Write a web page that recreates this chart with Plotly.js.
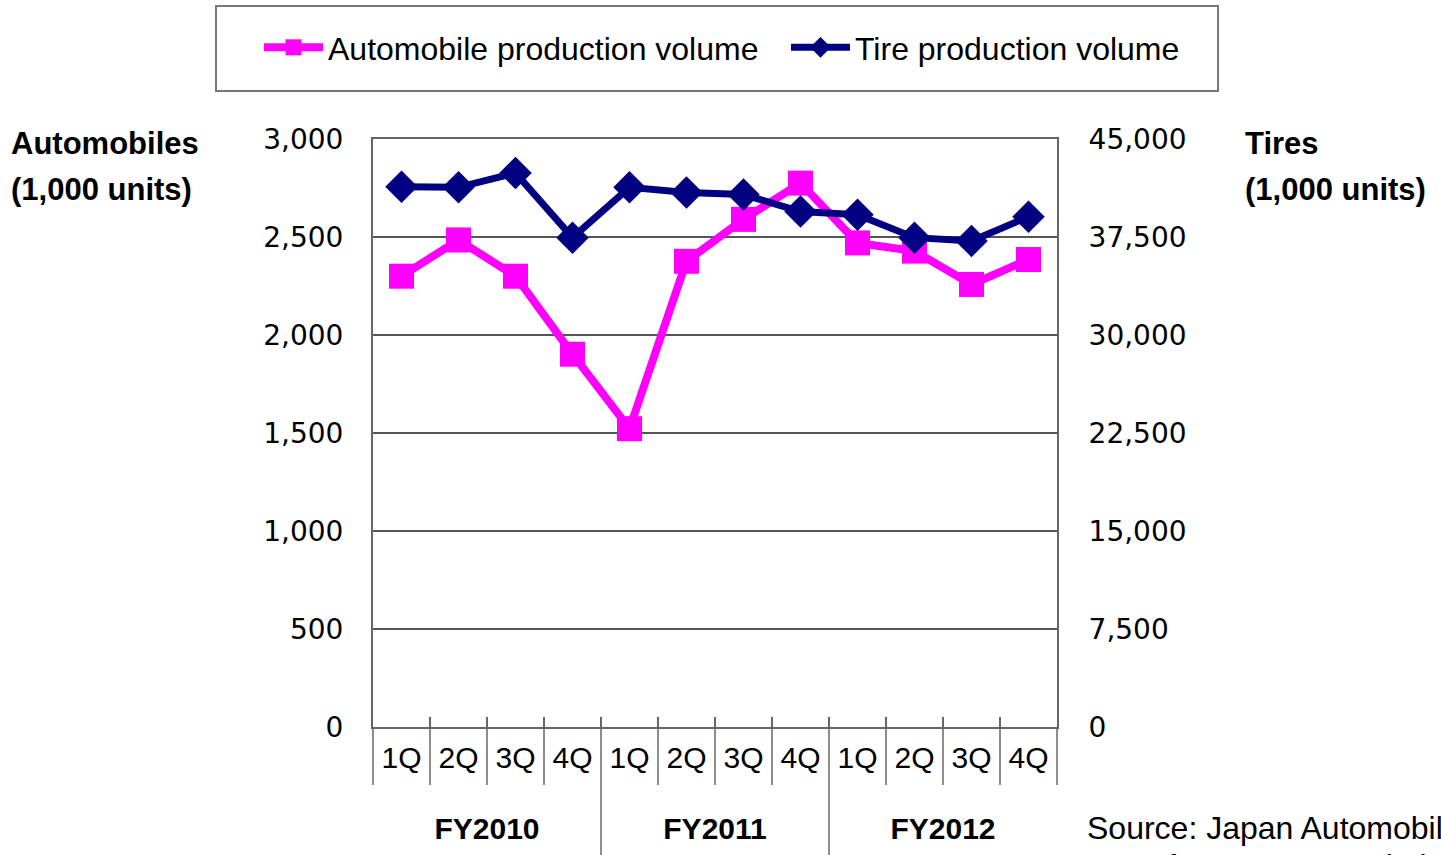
<!DOCTYPE html>
<html>
<head>
<meta charset="utf-8">
<script src="https://cdn.plot.ly/plotly-3.0.1.min.js"></script>
<style>
  html, body { margin: 0; padding: 0; background: #fff; }
  #chart { width: 1441px; height: 855px; }
</style>
</head>
<body>
<div id="chart"></div>
<script>
// quarterly production, FY2010 - FY2012
const fiscalYears = ['FY2010', 'FY2010', 'FY2010', 'FY2010',
                     'FY2011', 'FY2011', 'FY2011', 'FY2011',
                     'FY2012', 'FY2012', 'FY2012', 'FY2012'];
const quarters = ['1Q', '2Q', '3Q', '4Q', '1Q', '2Q', '3Q', '4Q', '1Q', '2Q', '3Q', '4Q'];

// Automobiles (1,000 units), left axis
const autoProduction = [2300, 2485, 2300, 1902, 1522, 2376, 2590, 2775, 2470, 2428, 2258, 2385];
// Tires (1,000 units), right axis
const tireProduction = [41350, 41300, 42400, 37450, 41300, 40900, 40750, 39450, 39200, 37450, 37200, 39050];

const autoTicks = [0, 500, 1000, 1500, 2000, 2500, 3000];
const tireTicks = [0, 7500, 15000, 22500, 30000, 37500, 45000];

// plot area in pixels, used to place the loose text
const L = 373, R = 1057, T = 139, B = 727;
const px = x => (x - L) / (R - L);
const py = y => (B - y) / (B - T);

// empty first line pushes the year labels further below the quarters
const xCats = [fiscalYears.map(y => '<br><b>' + y + '</b>'), quarters];

const autoTrace = {
    x: xCats,
    y: autoProduction,
    type: 'scatter',
    mode: 'lines+markers',
    name: 'Automobile production volume',
    line: {color: '#ff00ff', width: 8},
    marker: {symbol: 'square', size: 25, color: '#ff00ff'},
    yaxis: 'y'
};

const tireTrace = {
    x: xCats,
    y: tireProduction,
    type: 'scatter',
    mode: 'lines+markers',
    name: 'Tire production volume',
    line: {color: '#000080', width: 7},
    marker: {symbol: 'diamond', size: 25, color: '#000080'},
    yaxis: 'y2',
    legendwidth: 340
};

// separators under the axis: short between quarters, long between years
const n = quarters.length;
const shapes = [];
for (let i = 0; i <= n; i++) {
    const yearBreak = i > 0 && i < n && fiscalYears[i] !== fiscalYears[i - 1];
    shapes.push({
        type: 'line', xref: 'paper', yref: 'paper',
        x0: i / n, x1: i / n,
        y0: yearBreak ? py(717) : 0,
        y1: yearBreak ? py(860) : py(785),
        line: {color: '#666', width: 1.5}
    });
}
// legend frame
shapes.push({
    type: 'rect', xref: 'paper', yref: 'paper',
    x0: px(216), x1: px(1218), y0: py(91), y1: py(6),
    line: {color: '#777', width: 2}
});

const tickFont = {family: 'DejaVu Sans', size: 28, color: '#000'};
const boldFont = {family: 'Liberation Sans, Arial', size: 31, color: '#000'};
const srcFont = {family: 'Liberation Sans, Arial', size: 32, color: '#000'};

const layout = {
    width: 1441,
    height: 855,
    margin: {l: L, r: 1441 - R, t: T, b: 855 - B, autoexpand: false},
    paper_bgcolor: '#fff',
    plot_bgcolor: '#fff',
    showlegend: true,
    legend: {
        orientation: 'h',
        xref: 'paper', yref: 'paper',
        x: px(259), xanchor: 'left',
        y: py(20), yanchor: 'top',
        borderwidth: 0,
        bgcolor: 'rgba(0,0,0,0)',
        font: {family: 'Liberation Sans, Arial', size: 32, color: '#000'},
        itemwidth: 59,
        entrywidth: 453
    },
    xaxis: {
        type: 'multicategory',
        range: [-0.5, n - 0.5],
        showline: true, linecolor: '#666', linewidth: 2, mirror: true,
        showgrid: false,
        ticks: 'inside', ticklen: 10, tickcolor: '#666', tickwidth: 1.5,
        tickson: 'boundaries',
        ticklabelstandoff: 3,
        tickfont: {family: 'Liberation Sans, Arial', size: 30, color: '#000'},
        showdividers: false
    },
    yaxis: {
        range: [0, 3000],
        tickvals: autoTicks,
        tickformat: ',d',
        showline: true, linecolor: '#666', linewidth: 2,
        showgrid: true, gridcolor: '#555', gridwidth: 2,
        zeroline: false,
        ticks: '',
        ticklabelstandoff: 22,
        tickfont: tickFont
    },
    yaxis2: {
        range: [0, 45000],
        tickvals: tireTicks,
        tickformat: ',d',
        overlaying: 'y',
        side: 'right',
        showline: true, linecolor: '#666', linewidth: 2,
        showgrid: false, zeroline: false,
        ticks: '',
        ticklabelstandoff: 24,
        tickfont: tickFont
    },
    shapes: shapes,
    annotations: [
        {text: '<b>Automobiles</b>', xref: 'paper', yref: 'paper', x: px(9), y: py(143),
         xanchor: 'left', yanchor: 'middle', showarrow: false, font: boldFont},
        {text: '<b>(1,000 units)</b>', xref: 'paper', yref: 'paper', x: px(9), y: py(189),
         xanchor: 'left', yanchor: 'middle', showarrow: false, font: boldFont},
        {text: '<b>Tires</b>', xref: 'paper', yref: 'paper', x: px(1243), y: py(143),
         xanchor: 'left', yanchor: 'middle', showarrow: false, font: boldFont},
        {text: '<b>(1,000 units)</b>', xref: 'paper', yref: 'paper', x: px(1243), y: py(189),
         xanchor: 'left', yanchor: 'middle', showarrow: false, font: boldFont},
        {text: 'Source: Japan Automobile', xref: 'paper', yref: 'paper', x: px(1085), y: py(828),
         xanchor: 'left', yanchor: 'middle', showarrow: false, font: srcFont},
        {text: 'Manufacturers Association', xref: 'paper', yref: 'paper', x: px(1085), y: py(866),
         xanchor: 'left', yanchor: 'middle', showarrow: false, font: srcFont}
    ]
};

Plotly.newPlot('chart', [autoTrace, tireTrace], layout, {displayModeBar: false, staticPlot: true});
</script>
</body>
</html>
